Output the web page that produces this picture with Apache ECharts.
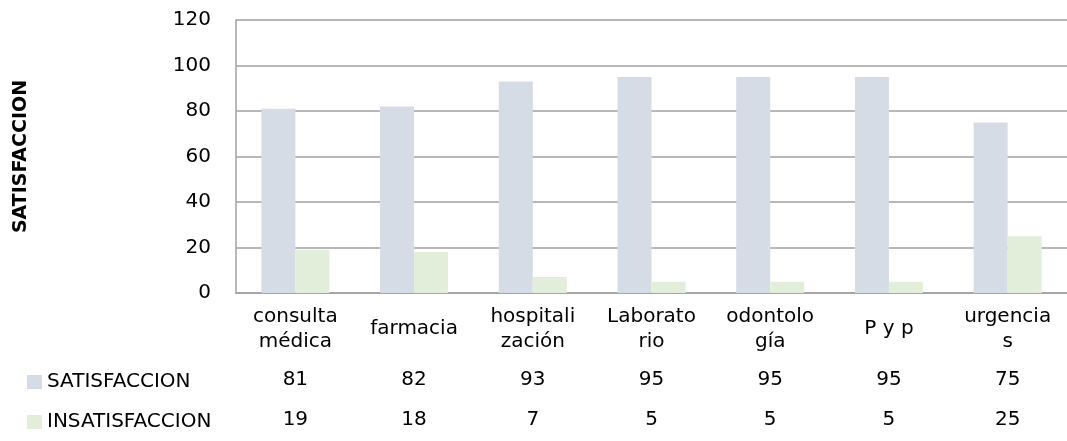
<!DOCTYPE html>
<html>
<head>
<meta charset="utf-8">
<script src="https://cdn.jsdelivr.net/npm/echarts@6/dist/echarts.min.js"></script>
<style>html,body{margin:0;padding:0;background:#fff;}#c{width:1067px;height:441px;}</style>
</head>
<body>
<div id="c"></div>
<script>
var categories = ["consulta\nmédica", "farmacia", "hospitali\nzación", "Laborato\nrio", "odontolo\ngía", "P y p", "urgencia\ns"];
var seriesNames = ["SATISFACCION", "INSATISFACCION"];
var satisfaccion = [81, 82, 93, 95, 95, 95, 75];
var insatisfaccion = [19, 18, 7, 5, 5, 5, 25];
var yTicks = [0, 20, 40, 60, 80, 100, 120];

var FONT = "DejaVu Sans";
var FS = 20;
var chart = echarts.init(document.getElementById('c'), null, {renderer: 'canvas'});
function tableAxis(values, margin) {
  return {
    type: 'category', gridIndex: 0, position: 'bottom', data: values.map(String),
    axisLine: {show: false}, axisTick: {show: false}, splitLine: {show: false},
    axisLabel: {interval: 0, margin: margin, verticalAlign: 'middle', color: '#000', fontFamily: FONT, fontSize: FS}
  };
}
chart.setOption({
  animation: false,
  backgroundColor: '#fff',
  grid: {left: 236, top: 20, width: 841, bottom: 148, containLabel: false},
  legend: {
    orient: 'vertical', left: 27, top: 372, padding: 0, itemWidth: 15, itemHeight: 14, itemGap: 20,
    icon: 'rect', data: seriesNames,
    textStyle: {color: '#000', fontFamily: FONT, fontSize: FS}
  },
  xAxis: [
    {
      type: 'category', data: categories, gridIndex: 0, position: 'bottom',
      axisLine: {show: true, lineStyle: {color: '#a0a0a0', width: 1.5}},
      axisTick: {show: false},
      axisLabel: {interval: 0, margin: 36, verticalAlign: 'middle', lineHeight: 25, color: '#000', fontFamily: FONT, fontSize: FS}
    },
    tableAxis(satisfaccion, 87),
    tableAxis(insatisfaccion, 127)
  ],
  yAxis: {
    type: 'value', min: yTicks[0], max: yTicks[yTicks.length - 1], interval: 20,
    name: 'SATISFACCION', nameLocation: 'middle', nameRotate: 90, nameGap: 205,
    nameTextStyle: {color: '#000', fontFamily: FONT, fontSize: 19, fontWeight: 'bold'},
    axisLine: {show: true, lineStyle: {color: '#a0a0a0', width: 1.5}},
    axisTick: {show: false},
    splitLine: {show: true, lineStyle: {color: '#a0a0a0', width: 1.5}},
    axisLabel: {margin: 25, color: '#000', fontFamily: FONT, fontSize: FS}
  },
  series: [
    {name: seriesNames[0], type: 'bar', data: satisfaccion, barWidth: 34, barGap: '0%', itemStyle: {color: '#d5dce6'}},
    {name: seriesNames[1], type: 'bar', data: insatisfaccion, barWidth: 34, barGap: '0%', itemStyle: {color: '#e2eed9'}}
  ]
});
</script>
</body>
</html>
